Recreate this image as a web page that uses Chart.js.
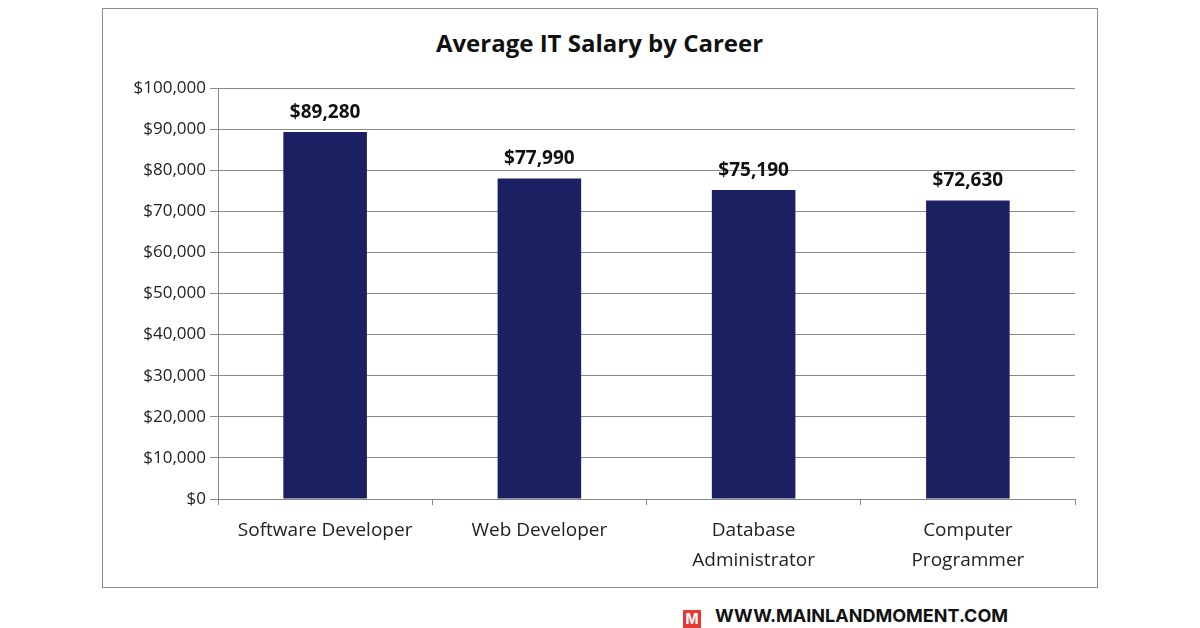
<!DOCTYPE html>
<html>
<head>
<meta charset="utf-8">
<script src="https://cdn.jsdelivr.net/npm/chart.js@4/dist/chart.umd.min.js"></script>
<style>
	body { margin: 0; background: #fff; width: 1200px; height: 628px; position: relative; overflow: hidden; font-family: "Open Sans", sans-serif; }
	#box { position: absolute; left: 102px; top: 8px; width: 994px; height: 578px; border: 1px solid #8c8c8c; }
	#wrap { position: absolute; left: 102px; top: 8px; width: 995px; height: 579px; }
	#title { position: absolute; left: 102px; top: 26px; width: 995px; text-align: center; font-size: 24px; font-weight: 700; color: #111; }
	#mark { position: absolute; left: 683px; top: 605px; font-size: 18px; font-weight: 700; color: #111; font-family: "Inter", sans-serif; }
	#logo { display: inline-block; width: 18px; height: 18px; background: #e53935; color: #fff; font-size: 14px; text-align: center; line-height: 18px; margin-right: 14px; vertical-align: -2px; }
</style>
</head>
<body>
<div id="box"></div>
<div id="title">Average IT Salary by Career</div>
<div id="wrap"><canvas id="myChart" width="995" height="579"></canvas></div>
<div id="mark"><span id="logo">M</span>WWW.MAINLANDMOMENT.COM</div>
<script>
const careers = [['Software Developer'], ['Web Developer'], ['Database', 'Administrator'], ['Computer', 'Programmer']]
const salaries = [89280, 77990, 75190, 72630]

Chart.defaults.font.family = '"Open Sans", sans-serif'
Chart.defaults.color = '#222'

const valueLabels = {
	id: 'valueLabels',
	afterDatasetsDraw(chart) {
		const c = chart.ctx
		const meta = chart.getDatasetMeta(0)
		c.save()
		c.font = 'bold 19px "Open Sans", sans-serif'
		c.fillStyle = '#111'
		c.textAlign = 'center'
		c.textBaseline = 'bottom'
		meta.data.forEach((bar, i) => {
			c.fillText('$' + salaries[i].toLocaleString('en-US'), bar.x, bar.y - 10)
		})
		c.restore()
	}
}

new Chart(document.getElementById('myChart'), {
	type: 'bar',
	data: {
		labels: careers,
		datasets: [{
			data: salaries,
			backgroundColor: '#1b2063',
			barPercentage: 0.39,
			categoryPercentage: 1
		}]
	},
	plugins: [valueLabels],
	options: {
		responsive: false,
		animation: false,
		layout: { padding: { left: 0, right: 22, top: 80, bottom: 0 } },
		plugins: { legend: { display: false }, tooltip: { enabled: false } },
		scales: {
			x: {
				afterFit: s => { s.height = 88 },
				grid: { offset: true, drawOnChartArea: false, tickLength: 6, color: '#888' },
				border: { color: '#888' },
				ticks: { font: { size: 19, lineHeight: 1.6 }, color: '#222', padding: 10 }
			},
			y: {
				min: 0, max: 100000,
				afterFit: s => { s.width = 116 },
				grid: { color: '#8a8a8a', tickLength: 8 },
				border: { color: '#888' },
				ticks: {
					stepSize: 10000,
					font: { size: 17 },
					color: '#222',
					padding: 4,
					callback: v => '$' + v.toLocaleString('en-US')
				}
			}
		}
	}
})
</script>
</body>
</html>
